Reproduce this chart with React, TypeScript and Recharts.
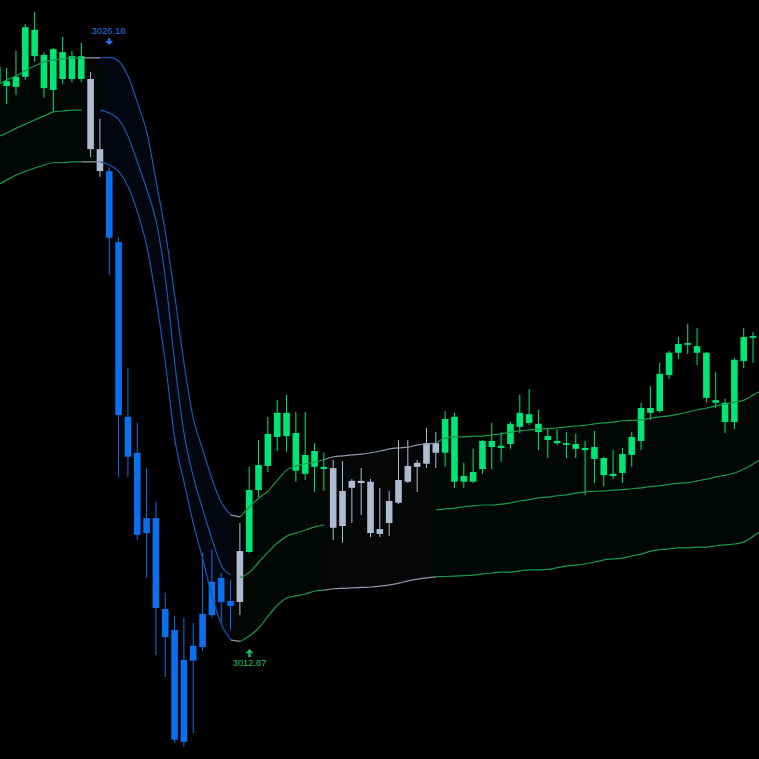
import React from 'react';
import { ComposedChart, Bar, Line, Area, XAxis, YAxis, ReferenceDot } from 'recharts';

// bar index of the first candle (partly cut by the left edge)
const FIRST_INDEX = -1;

// G = up-trend (green), B = down-trend (blue), N = neutral (grey)
const regimes = (
  'GGGGGGGGGG' + 'NN' + 'BBBBBBBBBBBBBB' + 'N' + 'GGGGGGGGG' + 'NNNNNNNNNNNN' +
  'GGGGGGGGGGGGGGGGGGGGGGGGGGGGGGGGGGG'
).split('');

const opens = [
  3025.62, 3025.64, 3025.51, 3025.74, 3026.81, 3026.24, 3025.44, 3026.30, 3025.69, 3026.21,
  3025.69, 3024.09, 3023.59, 3021.97, 3017.99, 3017.17, 3015.34, 3015.68, 3013.61, 3013.13,
  3010.58, 3012.43, 3012.74, 3013.47, 3014.32, 3013.79, 3013.77, 3014.91, 3016.32, 3016.87,
  3017.53, 3018.08, 3017.62, 3016.69, 3017.21, 3016.85, 3016.82, 3015.50, 3016.37, 3016.53,
  3016.51, 3015.32, 3015.57, 3016.03, 3016.51, 3016.85, 3016.92, 3017.39, 3017.17, 3017.99,
  3016.51, 3016.51, 3016.80, 3017.44, 3017.28, 3017.37, 3017.76, 3018.05, 3017.83, 3017.55,
  3017.44, 3017.39, 3017.37, 3017.28, 3017.30, 3017.05, 3016.64, 3016.71, 3017.12, 3017.44,
  3018.08, 3018.12, 3018.94, 3019.45, 3019.63, 3019.60, 3019.45, 3018.37, 3018.31, 3017.87,
  3019.26, 3019.79, 3019.83,
];
const highs = [
  3026.08, 3025.94, 3026.33, 3026.94, 3027.22, 3026.30, 3026.40, 3026.65, 3026.33, 3026.51,
  3025.85, 3024.78, 3023.68, 3022.09, 3019.10, 3017.85, 3016.82, 3016.05, 3013.98, 3013.45,
  3013.41, 3013.29, 3014.89, 3014.96, 3014.43, 3014.27, 3015.57, 3016.85, 3017.46, 3017.99,
  3018.37, 3018.49, 3018.10, 3018.10, 3017.39, 3017.17, 3017.01, 3016.98, 3016.57, 3016.82,
  3016.57, 3016.37, 3016.30, 3017.46, 3017.46, 3017.01, 3017.74, 3017.64, 3018.12, 3018.08,
  3016.94, 3017.26, 3017.46, 3017.85, 3017.64, 3017.87, 3018.49, 3018.62, 3018.15, 3017.74,
  3017.71, 3017.64, 3017.60, 3017.44, 3017.67, 3017.08, 3017.23, 3017.28, 3017.64, 3018.31,
  3018.69, 3019.22, 3019.49, 3019.81, 3020.11, 3020.01, 3019.47, 3019.01, 3018.40, 3019.33,
  3020.01, 3019.92, 3020.20,
];
const lows = [
  3025.33, 3025.12, 3025.33, 3025.67, 3026.08, 3025.26, 3024.94, 3025.58, 3025.62, 3025.62,
  3023.91, 3023.46, 3021.22, 3016.62, 3016.62, 3015.18, 3014.32, 3012.56, 3012.06, 3010.56,
  3010.47, 3010.78, 3012.65, 3013.41, 3013.29, 3013.13, 3013.47, 3014.89, 3016.16, 3016.73,
  3017.21, 3017.19, 3016.51, 3016.55, 3016.28, 3016.30, 3015.18, 3015.12, 3015.57, 3015.75,
  3015.25, 3015.25, 3015.27, 3016.00, 3016.48, 3016.28, 3016.82, 3016.82, 3016.85, 3016.37,
  3016.37, 3016.48, 3016.69, 3016.80, 3016.96, 3017.26, 3017.62, 3017.80, 3017.23, 3017.05,
  3017.35, 3017.05, 3017.05, 3016.21, 3016.48, 3016.41, 3016.57, 3016.48, 3016.85, 3017.23,
  3017.92, 3018.08, 3018.85, 3019.31, 3019.42, 3019.17, 3018.31, 3018.19, 3017.62, 3017.71,
  3019.10, 3019.22, 3019.63,
];
const closes = [
  3025.96, 3025.53, 3025.74, 3026.87, 3026.21, 3025.48, 3026.37, 3025.69, 3026.21, 3025.69,
  3024.09, 3023.59, 3022.07, 3018.03, 3017.08, 3015.30, 3015.68, 3013.63, 3012.97, 3010.63,
  3012.45, 3012.77, 3013.50, 3014.23, 3013.77, 3013.68, 3014.93, 3016.32, 3016.89, 3017.60,
  3018.08, 3017.55, 3016.76, 3017.12, 3016.85, 3016.80, 3015.46, 3016.30, 3016.53, 3016.48,
  3015.34, 3015.43, 3016.07, 3016.55, 3016.87, 3016.94, 3017.39, 3017.17, 3017.94, 3016.51,
  3016.64, 3016.73, 3017.44, 3017.30, 3017.33, 3017.83, 3018.08, 3017.85, 3017.64, 3017.46,
  3017.39, 3017.35, 3017.26, 3017.23, 3017.03, 3016.66, 3016.69, 3017.14, 3017.53, 3018.19,
  3018.19, 3018.97, 3019.45, 3019.65, 3019.67, 3019.45, 3018.42, 3018.31, 3017.87, 3019.29,
  3019.81, 3019.83, 3020.01,
];

const upperBand = [
  3025.55, 3025.67, 3025.76, 3025.89, 3025.99, 3026.08, 3026.12, 3026.15, 3026.17, 3026.17,
  3026.17, 3026.17, 3026.18, 3026.09, 3025.74, 3025.14, 3024.46, 3023.34, 3022.16, 3020.72,
  3019.17, 3017.92, 3017.23, 3016.55, 3016.03, 3015.75, 3015.71, 3015.94, 3016.14, 3016.30,
  3016.55, 3016.78, 3016.87, 3016.92, 3016.96, 3017.01, 3017.08, 3017.10, 3017.12, 3017.14,
  3017.17, 3017.21, 3017.26, 3017.28, 3017.30, 3017.35, 3017.37, 3017.39, 3017.51, 3017.53,
  3017.53, 3017.55, 3017.55, 3017.58, 3017.60, 3017.64, 3017.67, 3017.69, 3017.71, 3017.72,
  3017.74, 3017.76, 3017.78, 3017.80, 3017.83, 3017.85, 3017.87, 3017.90, 3017.91, 3017.92,
  3017.96, 3017.99, 3018.01, 3018.05, 3018.10, 3018.15, 3018.19, 3018.24, 3018.28, 3018.33,
  3018.37, 3018.49, 3018.60,
];
const middleBand = [
  3024.37, 3024.46, 3024.57, 3024.66, 3024.76, 3024.85, 3024.94, 3024.96, 3024.98, 3024.98,
  null, 3024.98, 3024.91, 3024.76, 3024.37, 3023.78, 3023.16, 3022.43, 3021.11, 3019.17,
  3017.58, 3016.60, 3015.87, 3015.18, 3014.59, 3014.39, 3014.32, 3014.45, 3014.68, 3014.91,
  3015.12, 3015.27, 3015.34, 3015.41, 3015.48, 3015.53, null, null, null, null,
  null, null, null, null, null, null, null, 3015.87, 3015.89, 3015.91,
  3015.94, 3015.96, 3015.98, 3015.98, 3016.00, 3016.03, 3016.07, 3016.10, 3016.14, 3016.16,
  3016.19, 3016.21, 3016.25, 3016.28, 3016.29, 3016.30, 3016.32, 3016.33, 3016.35, 3016.37,
  3016.40, 3016.42, 3016.45, 3016.48, 3016.49, 3016.53, 3016.57, 3016.62, 3016.66, 3016.71,
  3016.80, 3016.92, 3017.05,
];
const lowerBand = [
  3023.27, 3023.39, 3023.50, 3023.59, 3023.66, 3023.73, 3023.78, 3023.78, 3023.80, 3023.80,
  3023.80, 3023.80, 3023.73, 3023.57, 3023.23, 3022.64, 3021.86, 3020.65, 3019.17, 3017.46,
  3016.48, 3015.53, 3014.73, 3013.88, 3013.25, 3012.90, 3012.87, 3013.00, 3013.18, 3013.45,
  3013.70, 3013.86, 3013.91, 3013.95, 3014.02, 3014.04, 3014.07, 3014.08, 3014.09, 3014.10,
  3014.11, 3014.13, 3014.16, 3014.20, 3014.25, 3014.29, 3014.32, 3014.34, 3014.35, 3014.36,
  3014.37, 3014.38, 3014.41, 3014.43, 3014.45, 3014.45, 3014.48, 3014.50, 3014.50, 3014.51,
  3014.55, 3014.59, 3014.61, 3014.64, 3014.68, 3014.73, 3014.75, 3014.77, 3014.82, 3014.86,
  3014.93, 3014.96, 3014.98, 3015.00, 3015.00, 3015.02, 3015.02, 3015.05, 3015.07, 3015.09,
  3015.14, 3015.27, 3015.41,
];

// trend-change signals: bar index, band price, arrow direction
const signals = [
  { i: 11, price: 3026.18, dir: 'down' },
  { i: 26, price: 3012.87, dir: 'up' },
];

const X_DOMAIN = [-0.75, 80.6];
const Y_DOMAIN = [3010.19, 3027.49];

const CANDLE = { G: '#00e676', B: '#0b70ee', N: '#aebcd2' };
const LINE = { G: '#1a9a48', B: '#1859b5', N: '#8f98a8' };
const FILL = { G: 'rgba(0,230,118,0.032)', B: 'rgba(30,100,230,0.06)', N: 'rgba(170,180,205,0.032)' };
const SIGNAL = { down: '#1f78e6', up: '#17c45e' };

const rows = opens.map((o, k) => {
  const r = regimes[k];
  const nx = regimes[k + 1];
  const row: any = {
    i: k + FIRST_INDEX,
    open: o,
    high: highs[k],
    low: lows[k],
    close: closes[k],
    regime: r,
    range: [lows[k], highs[k]],
  };
  (['G', 'B', 'N'] as const).forEach((R) => {
    const on = r === R || nx === R;
    row['up' + R] = on ? upperBand[k] : null;
    row['lo' + R] = on ? lowerBand[k] : null;
    row['mid' + R] = on && R !== 'N' ? middleBand[k] : null;
    row['fill' + R] = on ? [lowerBand[k], upperBand[k]] : null;
  });
  return row;
});

const Candle = (props: any) => {
  const { x, y, width, height, payload } = props;
  if (!payload || height == null) return null;
  const { open, close, high, low, regime } = payload;
  const color = CANDLE[regime as 'G'];
  const ppu = height / (high - low);
  const top = y + (high - Math.max(open, close)) * ppu;
  let bh = Math.abs(open - close) * ppu;
  if (bh < 1.2) bh = 1.2;
  const cx = x + width / 2;
  return (
    <g>
      <line x1={cx} x2={cx} y1={y} y2={y + height} stroke={color} strokeWidth={1} />
      <rect x={x} y={top} width={width} height={bh} fill={color} />
    </g>
  );
};

const makeSignal = (s: { price: number; dir: string }) => (p: any) => {
  const { cx, cy } = p;
  const c = SIGNAL[s.dir as 'up'];
  const txt = s.price.toFixed(2);
  if (s.dir === 'down') {
    return (
      <g>
        <text x={cx - 1} y={cy - 23.5} fill={c} fontSize={9.3} textAnchor="middle"
          fontFamily="'Liberation Sans', Arial, sans-serif">{txt}</text>
        <rect x={cx - 1.6} y={cy - 19.3} width={2.4} height={3} fill={c} />
        <polygon points={`${cx - 4.4},${cy - 16.5} ${cx + 3.6},${cy - 16.5} ${cx - 0.4},${cy - 12.4}`} fill={c} />
      </g>
    );
  }
  return (
    <g>
      <polygon points={`${cx - 4.1},${cy + 11.9} ${cx + 3.9},${cy + 11.9} ${cx - 0.1},${cy + 7.7}`} fill={c} />
      <rect x={cx - 1.3} y={cy + 11.8} width={2.4} height={3.9} fill={c} />
      <text x={cx} y={cy + 25} fill={c} fontSize={9.3} textAnchor="middle"
        fontFamily="'Liberation Sans', Arial, sans-serif">{txt}</text>
    </g>
  );
};

export default function App() {
  return (
    <div style={{ position: 'fixed', left: 0, top: 0, width: 759, height: 759, background: '#000', overflow: 'hidden' }}>
      <ComposedChart width={759} height={759} data={rows} margin={{ top: 0, right: 0, bottom: 0, left: 0 }}>
        <XAxis dataKey="i" type="number" domain={X_DOMAIN} allowDataOverflow hide />
        <YAxis type="number" domain={Y_DOMAIN} allowDataOverflow hide />
        {(['G', 'B', 'N'] as const).map((R) => (
          <Area key={'f' + R} dataKey={'fill' + R} fill={FILL[R]} fillOpacity={1} stroke="none"
            type="monotone" isAnimationActive={false} connectNulls={false} activeDot={false} />
        ))}
        {(['G', 'B', 'N'] as const).map((R) => (
          <Line key={'u' + R} dataKey={'up' + R} stroke={LINE[R]} strokeWidth={1.2} dot={false}
            type="monotone" isAnimationActive={false} connectNulls={false} activeDot={false} />
        ))}
        {(['G', 'B'] as const).map((R) => (
          <Line key={'m' + R} dataKey={'mid' + R} stroke={LINE[R]} strokeWidth={1.2} dot={false}
            type="monotone" isAnimationActive={false} connectNulls={false} activeDot={false} />
        ))}
        {(['G', 'B', 'N'] as const).map((R) => (
          <Line key={'l' + R} dataKey={'lo' + R} stroke={LINE[R]} strokeWidth={1.2} dot={false}
            type="monotone" isAnimationActive={false} connectNulls={false} activeDot={false} />
        ))}
        <Bar dataKey="range" barSize={6.6} shape={Candle} isAnimationActive={false} />
        {signals.map((s) => (
          <ReferenceDot key={s.i} x={s.i} y={s.price} ifOverflow="visible" shape={makeSignal(s)} />
        ))}
      </ComposedChart>
    </div>
  );
}
